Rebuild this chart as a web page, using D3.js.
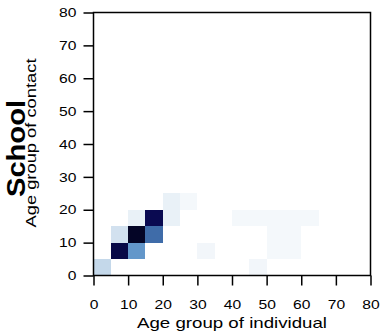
<!DOCTYPE html>
<html>
<head>
<meta charset="utf-8">
<script src="https://cdn.jsdelivr.net/npm/d3@7"></script>
<style>
  html, body { margin: 0; padding: 0; background: #fff; }
  text { font-family: "Liberation Sans", Arial, sans-serif; fill: #000; }
</style>
</head>
<body>
<svg id="chart" width="380" height="336"></svg>
<script>
// Age groups (5-year bins, lower bound)
const ageTicks = [0, 10, 20, 30, 40, 50, 60, 70, 80];
const binWidth = 5;
// Non-zero cells of the school contact matrix
const cellIndividual = [0, 5, 10, 5, 10, 15, 10, 15, 20, 20, 25, 30, 40, 45, 50, 55, 60, 50, 55, 50, 55, 45];
const cellContact    = [0, 5, 5, 10, 10, 10, 15, 15, 15, 20, 20, 5, 15, 15, 15, 15, 15, 5, 5, 10, 10, 0];
const cellValue      = [0.26, 0.82, 0.46, 0.21, 0.95, 0.56, 0.1, 0.78, 0.1, 0.1, 0.05, 0.06, 0.05, 0.05, 0.05, 0.05, 0.05, 0.05, 0.05, 0.05, 0.05, 0.06];
const colorStops = [0, 0.25, 0.5, 0.75, 1];
const colorRange = ["#ffffff", "#c9dbec", "#4f8ac3", "#0b0b58", "#02041a"];

const svg = d3.select("#chart");
const x = d3.scaleLinear().domain([0, 80]).range([93.5, 370.5]);
const y = d3.scaleLinear().domain([0, 80]).range([275.5, 12.5]);
const color = d3.scaleLinear().domain(colorStops).range(colorRange).interpolate(d3.interpolateRgb);

const cells = cellIndividual.map((a, i) => ({a, b: cellContact[i], v: cellValue[i]}));
svg.append("g").selectAll("rect").data(cells).join("rect")
  .attr("x", d => x(d.a))
  .attr("y", d => y(d.b + binWidth))
  .attr("width", d => x(d.a + binWidth) - x(d.a))
  .attr("height", d => y(d.b) - y(d.b + binWidth))
  .attr("fill", d => color(d.v))
  .attr("shape-rendering", "crispEdges");

const xAxis = svg.append("g").attr("transform", `translate(0,${y(0)})`)
  .call(d3.axisBottom(x).tickValues(ageTicks).tickSize(10).tickPadding(14.5));
const yAxis = svg.append("g").attr("transform", `translate(${x(0)},0)`)
  .call(d3.axisLeft(y).tickValues(ageTicks).tickSize(10).tickPadding(7));
[xAxis, yAxis].forEach(g => {
  g.select(".domain").remove();
  g.selectAll(".tick line").attr("stroke", "#000").attr("stroke-width", 1.5);
  g.selectAll(".tick text")
    .attr("font-size", 13)
    .attr("font-family", "Liberation Sans, Arial, sans-serif")
    .attr("fill", "#000")
    .attr("textLength", d => String(d).length * 8.7)
    .attr("lengthAdjust", "spacingAndGlyphs");
});

svg.append("rect")
  .attr("x", x(0)).attr("y", y(80))
  .attr("width", x(80) - x(0)).attr("height", y(0) - y(80))
  .attr("fill", "none").attr("stroke", "#000").attr("stroke-width", 1.5);

svg.append("text")
  .attr("x", (x(0) + x(80)) / 2).attr("y", 328)
  .attr("text-anchor", "middle").attr("font-size", 15)
  .attr("textLength", 190).attr("lengthAdjust", "spacingAndGlyphs")
  .text("Age group of individual");

svg.append("text")
  .attr("transform", `translate(35.5,143) rotate(-90)`)
  .attr("text-anchor", "middle").attr("font-size", 15)
  .attr("textLength", 169).attr("lengthAdjust", "spacingAndGlyphs")
  .text("Age group of contact");

svg.append("text")
  .attr("transform", `translate(25,148.5) rotate(-90)`)
  .attr("text-anchor", "middle").attr("font-size", 25).attr("font-weight", "bold")
  .attr("textLength", 97).attr("lengthAdjust", "spacingAndGlyphs")
  .text("School");
</script>
</body>
</html>
